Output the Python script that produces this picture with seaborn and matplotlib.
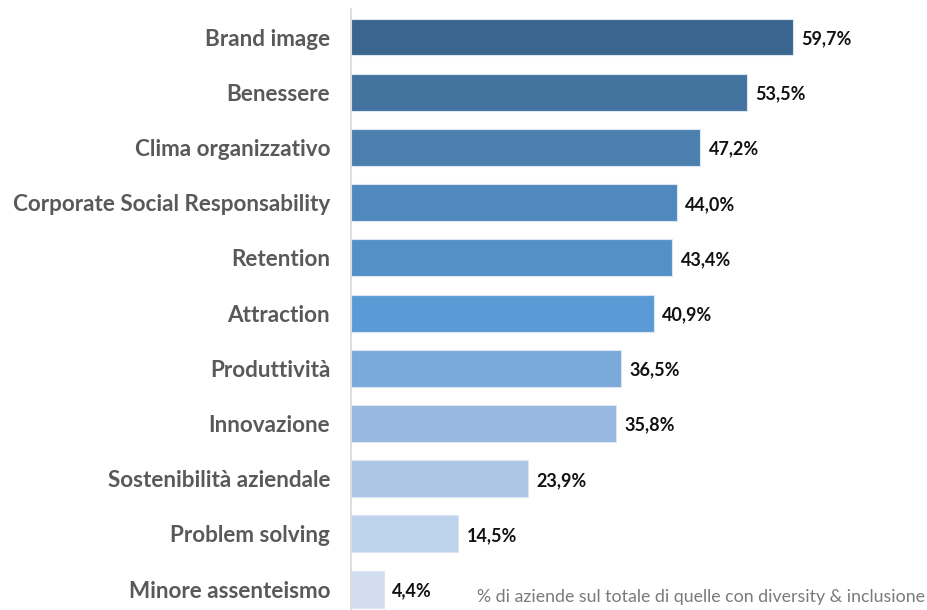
import numpy as np
import pandas as pd
import matplotlib.pyplot as plt
import seaborn as sns

# %%
categories = ["Brand image", "Benessere", "Clima organizzativo",
              "Corporate Social Responsability", "Retention", "Attraction",
              "Produttività", "Innovazione", "Sostenibilità aziendale",
              "Problem solving", "Minore assenteismo"]
values = [59.7, 53.5, 47.2, 44.0, 43.4, 40.9, 36.5, 35.8, 23.9, 14.5, 4.4]
colors = ["#3A668E", "#43739E", "#4A7FAE", "#4F89BE", "#548FC8", "#5B9BD5",
          "#7BA9DA", "#97B8E0", "#ADC6E6", "#BDD2EB", "#D2DEF0"]
note = "% di aziende sul totale di quelle con diversity & inclusione"

df = pd.DataFrame({"voce": categories, "pct": values})

# %%
sns.set_style("white")
plt.rcParams["font.family"] = ["Lato", "DejaVu Sans"]

fig = plt.figure(figsize=(9.27, 6.10), dpi=100)
ax = fig.add_axes([351 / 927, 0, 1 - 351 / 927, 600.6 / 610])

sns.barplot(data=df, x="pct", y="voce", hue="voce", palette=colors,
            saturation=1, legend=False, width=0.67, edgecolor="#dce6f2",
            linewidth=0.8, ax=ax)

ax.set_xlim(0, 77.8)
ax.set_ylim(10.38, -0.5)

# value labels
for i, v in enumerate(values):
    ax.text(v + 1.1, i + 0.03, f"{v:.1f}%".replace(".", ","), va="center",
            ha="left", fontsize=13, fontweight="bold", color="#111111")

ax.set_xlabel("")
ax.set_ylabel("")
ax.set_xticks([])
ax.tick_params(axis="y", length=0, pad=15)
for lab in ax.get_yticklabels():
    lab.set_fontsize(16.2)
    lab.set_fontweight("bold")
    lab.set_color("#595959")

for s in ["top", "right", "bottom"]:
    ax.spines[s].set_visible(False)
ax.spines["left"].set_color("#d9d9d9")
ax.spines["left"].set_linewidth(1.2)

fig.text(925 / 927, 1 - 597 / 610, note, ha="right", va="center",
         fontsize=12.8, color="#7a7a7a")

fig.savefig("out.png", dpi=100)
